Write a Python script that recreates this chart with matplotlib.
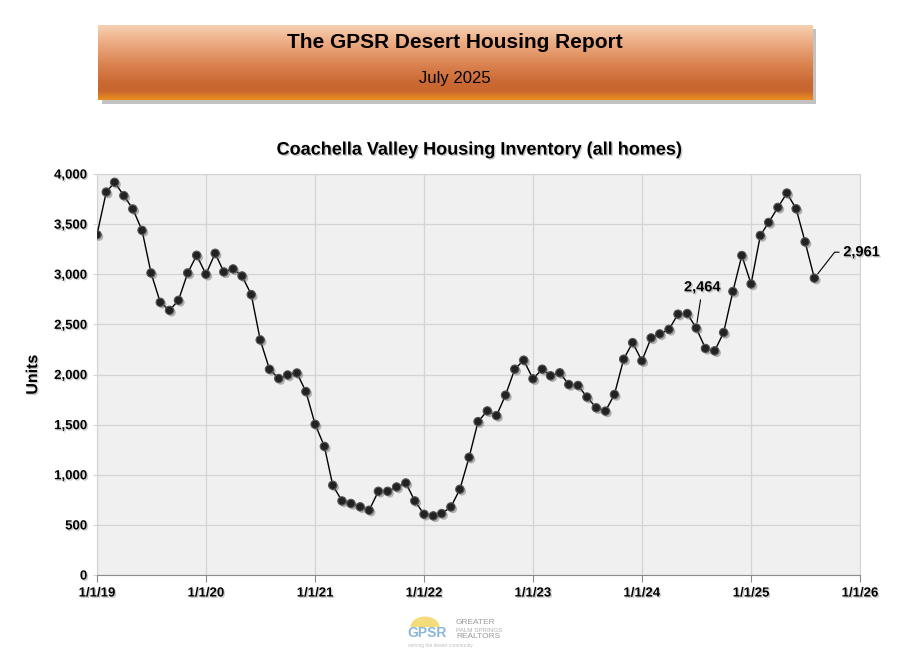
import numpy as np
import pandas as pd
import matplotlib
matplotlib.use('Agg')
import matplotlib.pyplot as plt
import matplotlib.patheffects as pe
from matplotlib.patches import Rectangle, Wedge

# monthly inventory, Jan 2019 onward
inventory = [3395, 3820, 3917, 3784, 3651, 3438, 3013, 2720, 2640, 2740, 3013, 3189,
             3000, 3209, 3023, 3053, 2983, 2797, 2345, 2052, 1960, 1995, 2015, 1830,
             1503, 1283, 895, 739, 713, 680, 646, 835, 835, 878, 918, 739,
             606, 590, 613, 679, 855, 1174, 1530, 1637, 1590, 1794, 2053, 2143,
             1957, 2053, 1987, 2017, 1900, 1891, 1775, 1668, 1635, 1801, 2153, 2318,
             2136, 2365, 2405, 2450, 2602, 2608, 2464, 2260, 2236, 2419, 2828, 3187,
             2903, 3387, 3517, 3667, 3810, 3653, 3323, 2961]
start_month = '2019-01-01'
x_tick_dates = ['2019-01-01', '2020-01-01', '2021-01-01', '2022-01-01',
                '2023-01-01', '2024-01-01', '2025-01-01', '2026-01-01']
x_tick_labels = ['1/1/19', '1/1/20', '1/1/21', '1/1/22', '1/1/23', '1/1/24', '1/1/25', '1/1/26']
y_ticks = [0, 500, 1000, 1500, 2000, 2500, 3000, 3500, 4000]
callouts = {66: '2,464', 79: '2,961'}

dates = pd.date_range(start_month, periods=len(inventory), freq='MS')
tick_dates = pd.to_datetime(x_tick_dates)

plt.rcParams['font.family'] = ['Liberation Sans', 'DejaVu Sans']
shadow = [pe.withSimplePatchShadow(offset=(1, -1), shadow_rgbFace='#999999', alpha=0.5)]

fig = plt.figure(figsize=(9.08, 6.53), dpi=100)
fig.patch.set_facecolor('white')

# header banner with gradient + drop shadow behind it
hx, hy, hw, hh = 98 / 908, 1 - 100 / 653, 714 / 908, 75 / 653
sax = fig.add_axes([hx + 4 / 908, hy - 4 / 653, hw, hh])
sax.add_patch(Rectangle((0, 0), 1, 1, facecolor='#a8a8a8', edgecolor='none', alpha=0.7))
sax.axis('off')
sax.set_zorder(0)
hax = fig.add_axes([hx, hy, hw, hh])
hax.set_zorder(1)
stops = np.array([[0.96, 0.82, 0.70], [0.93, 0.68, 0.52], [0.85, 0.50, 0.30],
                  [0.79, 0.41, 0.20], [0.79, 0.40, 0.18], [0.91, 0.56, 0.12]])
pos = np.array([0.0, 0.22, 0.55, 0.78, 0.88, 1.0])
t = np.linspace(0, 1, 100)
grad = np.stack([np.interp(t, pos, stops[:, c]) for c in range(3)], axis=1)
hax.imshow(grad[:, None, :], aspect='auto', extent=(0, 1, 0, 1))
hax.set_xlim(0, 1)
hax.set_ylim(0, 1)
hax.axis('off')
hax.text(0.5, 1 - 18 / 75, 'The GPSR Desert Housing Report', ha='center', va='center',
         fontsize=15, fontweight='bold', color='black')
hax.text(0.5, 1 - 54 / 75, 'July 2025', ha='center', va='center', fontsize=12, color='black')

# main chart
ax = fig.add_axes([97 / 908, 1 - 575 / 653, 763 / 908, 401 / 653])
ax.set_facecolor('#f0f0f0')
ax.plot(dates, inventory, color='black', lw=1.0, zorder=3)
ax.plot(dates, inventory, ls='none', marker='o', markersize=6,
        markerfacecolor='#222222', markeredgecolor='#555555', markeredgewidth=0.8, zorder=4,
        path_effects=[pe.SimplePatchShadow(offset=(1.5, -1.5), shadow_rgbFace='#666666', alpha=0.45),
                      pe.Normal()])

ax.set_xlim(tick_dates[0], tick_dates[-1])
ax.set_ylim(0, 4000)
ax.set_xticks(tick_dates)
ax.set_xticklabels(x_tick_labels)
ax.set_yticks(y_ticks)
ax.set_yticklabels([f'{v:,}' for v in y_ticks])
ax.grid(True, color='#d4d4d4', lw=0.9)
ax.set_axisbelow(True)
for side in ['top', 'right', 'left']:
    ax.spines[side].set_color('#d4d4d4')
ax.spines['bottom'].set_color('#8c8c8c')
ax.tick_params(axis='x', direction='out', length=5, color='#8c8c8c', pad=4)
ax.tick_params(axis='y', direction='out', length=3, color='#d4d4d4', pad=4)
for lab in ax.get_xticklabels() + ax.get_yticklabels():
    lab.set_fontweight('bold')
    lab.set_fontsize(9.5)
    lab.set_path_effects(shadow)

ax.set_ylabel('Units', fontsize=11.5, fontweight='bold', labelpad=10, path_effects=shadow)
ax.set_title('Coachella Valley Housing Inventory (all homes)', fontsize=13, fontweight='bold',
             pad=14, path_effects=shadow)

# callouts
i = 66
ax.annotate(callouts[i], xy=(dates[i], inventory[i]),
            xytext=(pd.Timestamp('2024-07-22'), 2870), textcoords='data',
            ha='center', va='center', fontsize=10.5, fontweight='bold', path_effects=shadow,
            arrowprops=dict(arrowstyle='-', color='black', lw=0.8, shrinkA=2, shrinkB=4))
i = 79
ax.annotate(callouts[i], xy=(dates[i], inventory[i]),
            xytext=(pd.Timestamp('2025-11-06'), 3220), textcoords='data',
            ha='left', va='center', fontsize=10.5, fontweight='bold', path_effects=shadow,
            annotation_clip=False,
            arrowprops=dict(arrowstyle='-', color='black', lw=0.8, shrinkA=1, shrinkB=4,
                            connectionstyle='angle,angleA=0,angleB=52,rad=0'))

# footer logo
fig.patches.append(Wedge((425 / 908, 1 - 627 / 653), 0.016, 0, 180, transform=fig.transFigure,
                         facecolor='#f2d25a', edgecolor='none', alpha=0.8))
fig.text(407 / 908, 1 - 633 / 653, 'GPSR', fontsize=10, fontweight='bold', color='#8ab6d8',
         va='center', ha='left')
fig.text(456 / 908, 1 - 622 / 653, 'GREATER', fontsize=6, color='#9a9a9a', va='center')
fig.text(456 / 908, 1 - 630 / 653, 'PALM SPRINGS', fontsize=4.5, color='#b0b0b0', va='center')
fig.text(456 / 908, 1 - 637 / 653, 'REALTORS', fontsize=6, color='#9a9a9a', va='center')
fig.text(408 / 908, 1 - 645 / 653, 'serving the desert community', fontsize=3.5, color='#c0c0c0',
         va='center')

fig.savefig('out.png', dpi=100)
